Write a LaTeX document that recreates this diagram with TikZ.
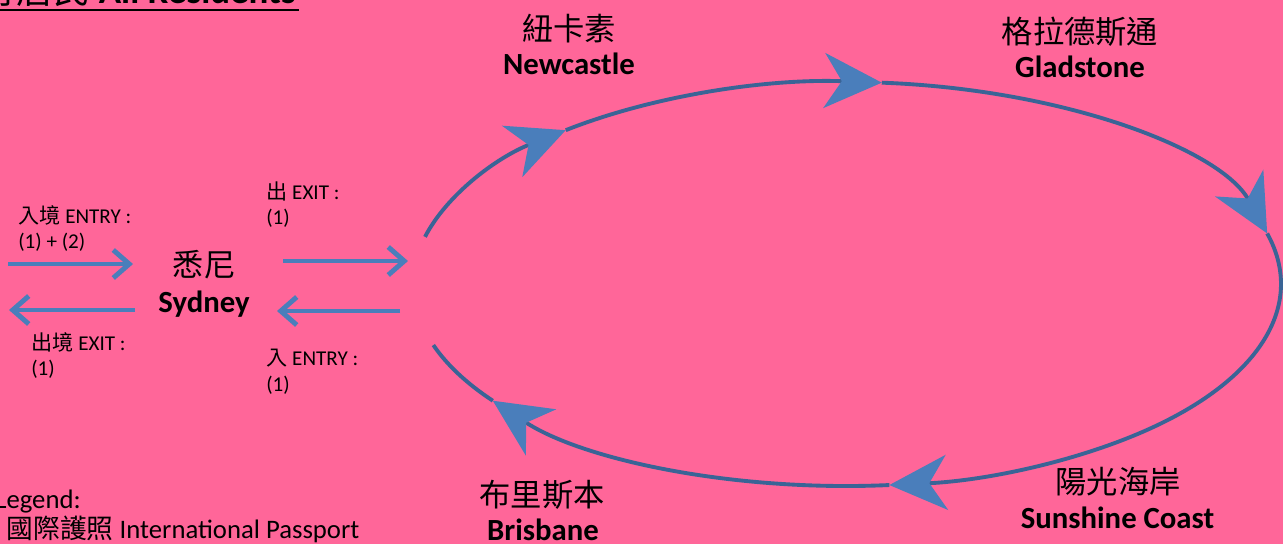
\documentclass[tikz,border=0pt]{standalone}
\usepackage{fontspec}
\setmainfont{Carlito}
\newfontfamily\cjk{Noto Sans CJK TC}
\usetikzlibrary{arrows.meta}
\definecolor{bgpink}{HTML}{FF6699}
\definecolor{arrowblue}{HTML}{4A7EBB}
\definecolor{ringblue}{HTML}{3A6496}

\begin{document}
\begin{tikzpicture}[
    cityzh/.style={
        anchor=base,
        inner sep=0pt,
        font=\cjk\fontsize{17.8}{22}\selectfont
    },
    cityen/.style={
        anchor=base,
        inner sep=0pt,
        font=\bfseries\fontsize{17.5}{22}\selectfont
    },
    tag/.style={
        anchor=north west,
        align=left,
        inner sep=0pt,
        font=\fontsize{12}{14.5}\selectfont
    },
    flow/.style={
        draw=arrowblue,
        line width=2.8pt,
        -{Straight Barb[length=0.32cm, width=0.56cm]}
    },
    ring/.style={
        draw=ringblue,
        line width=2.2pt
    },
    ringarrow/.style={
        ring,
        -{Stealth[length=1.15cm, width=1.1cm, inset=0.35cm, color=arrowblue]}
    }
]

\useasboundingbox (0,0) rectangle (25.66,-10.88);
\fill[bgpink] (0,0) rectangle (25.66,-10.88);

% Heading (cut by the page edge)
\node[anchor=base east, inner sep=0pt, font=\fontsize{21}{25}\selectfont] (title) at (5.92,-0.07) {{\cjk 所有居民} \textbf{All Residents}};
\draw[line width=1.6pt] ([yshift=-0.13cm]title.base west) -- ([yshift=-0.13cm, xshift=0.06cm]title.base east);

% Cities
\node[cityzh] (sydzh) at (4.08,-5.52) {悉尼};
\node[cityen] (syd) at (4.08,-6.24) {Sydney};
\node[cityzh] (newczh) at (11.38,-0.8) {紐卡素};
\node[cityen] (newc) at (11.38,-1.48) {Newcastle};
\node[cityzh] (gladzh) at (21.6,-0.86) {格拉德斯通};
\node[cityen] (glad) at (21.6,-1.55) {Gladstone};
\node[cityzh] (sunzh) at (22.36,-9.86) {陽光海岸};
\node[cityen] (sun) at (22.35,-10.56) {Sunshine Coast};
\node[cityzh] (brizh) at (10.84,-10.12) {布里斯本};
\node[cityen] (bri) at (10.86,-10.8) {Brisbane};

% Entry and exit at Sydney
\node[tag] (inLtag) at (0.36,-4.1) {{\cjk 入境} ENTRY :\\(1) + (2)};
\node[tag] (outLtag) at (0.62,-6.64) {{\cjk 出境} EXIT :\\(1)};
\node[tag] (outRtag) at (5.32,-3.62) {{\cjk 出} EXIT :\\(1)};
\node[tag] (inRtag) at (5.32,-6.98) {{\cjk 入} ENTRY :\\(1)};

\coordinate (inLa) at (0.16,-5.28);
\coordinate (inLb) at (2.66,-5.28);
\coordinate (outLa) at (2.70,-6.2);
\coordinate (outLb) at (0.18,-6.2);
\coordinate (outRa) at (5.66,-5.22);
\coordinate (outRb) at (8.16,-5.22);
\coordinate (inRa) at (8.0,-6.22);
\coordinate (inRb) at (5.54,-6.22);

\draw[flow] (inLa) -- (inLb);
\draw[flow] (outLa) -- (outLb);
\draw[flow] (outRa) -- (outRb);
\draw[flow] (inRa) -- (inRb);

% Round trip
\coordinate (ctr) at (16.94,-5.68);
\foreach \a/\b in {166.5/130.4, 130.4/85.4, 85.4/14.5, 14.5/-84.4, -84.4/-144.7}
    \draw[ringarrow] ([shift={(\a:8.68cm and 4.04cm)}]ctr) arc[start angle=\a, end angle=\b, x radius=8.68cm, y radius=4.04cm];
\draw[ring] ([shift={(-144.7:8.68cm and 4.04cm)}]ctr) arc[start angle=-144.7, end angle=-162.4, x radius=8.68cm, y radius=4.04cm];

% Legend
\node[anchor=base west, inner sep=0pt, font=\fontsize{15.2}{18}\selectfont] (legend) at (-0.1,-10.16) {Legend:};
\node[anchor=base west, inner sep=0pt, font=\fontsize{15.2}{18}\selectfont] (passport) at (0.13,-10.77) {{\cjk 國際護照} International Passport};

\end{tikzpicture}
\end{document}
